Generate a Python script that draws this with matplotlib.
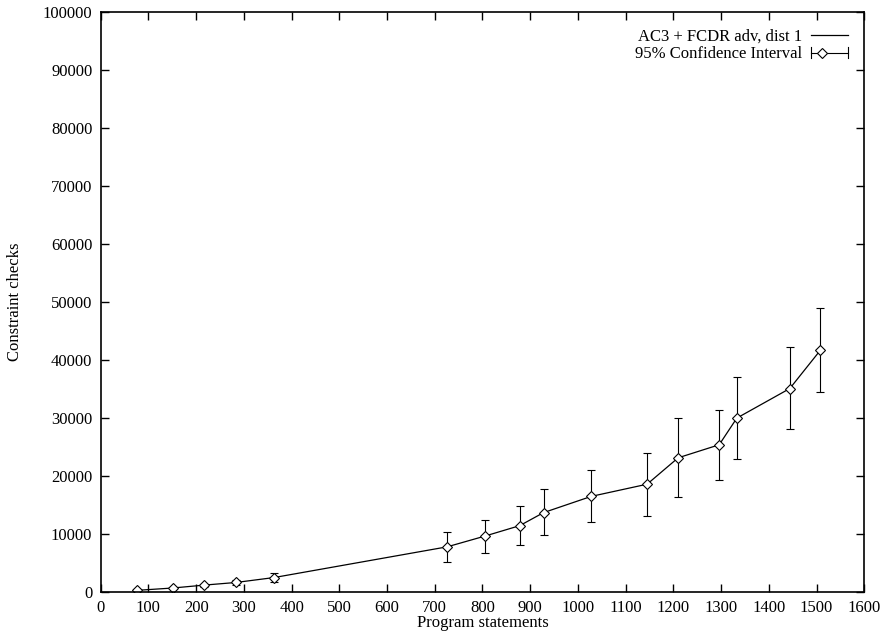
import matplotlib
matplotlib.use("Agg")
import matplotlib.pyplot as plt
from matplotlib.legend_handler import HandlerBase
from matplotlib.lines import Line2D

# values
statements = [77, 151, 217, 283, 363, 726, 805, 878, 928, 1028, 1145, 1210, 1296, 1333, 1444, 1508]
checks = [300, 700, 1200, 1650, 2500, 7800, 9650, 11450, 13700, 16500, 18600, 23150, 25400, 30000, 35100, 41700]
ci_low = [150, 500, 950, 1250, 1780, 5230, 6780, 8100, 9830, 12000, 13200, 16400, 19300, 22870, 28050, 34500]
ci_high = [450, 900, 1450, 2050, 3330, 10300, 12400, 14830, 17700, 21000, 24000, 29950, 31450, 37000, 42200, 48900]

x_ticks = list(range(0, 1700, 100))
y_ticks = list(range(0, 110000, 10000))

plt.rcParams['font.family'] = ['Liberation Serif', 'DejaVu Serif']
plt.rcParams['font.size'] = 12


class HorizontalErrHandler(HandlerBase):
    # gnuplot style key sample: |--<>--|
    def create_artists(self, legend, orig_handle, xdescent, ydescent,
                       width, height, fontsize, trans):
        y = height / 2 - ydescent
        x0, x1 = -xdescent, -xdescent + width
        bar = Line2D([x0, x1], [y, y], color='black', lw=0.8, transform=trans)
        capl = Line2D([x0, x0], [y - 4, y + 4], color='black', lw=0.8, transform=trans)
        capr = Line2D([x1, x1], [y - 4, y + 4], color='black', lw=0.8, transform=trans)
        mk = Line2D([x0 + width * 0.3], [y], marker='D', ms=5, mfc='white',
                    mec='black', mew=0.8, transform=trans)
        return [bar, capl, capr, mk]


fig = plt.figure(figsize=(8.91, 6.38), dpi=100)
ax = fig.add_axes([0.113, 0.072, 0.857, 0.909])

line, = ax.plot(statements, checks, color='black', lw=0.9)
yerr = [[c - lo for c, lo in zip(checks, ci_low)],
        [hi - c for c, hi in zip(checks, ci_high)]]
ax.errorbar(statements, checks, yerr=yerr, fmt='D', ms=5, mfc='white',
            mec='black', mew=0.8, ecolor='black', elinewidth=0.8,
            capsize=3, capthick=0.8)

err_handle = Line2D([], [])
ax.legend([line, err_handle], ["AC3 + FCDR adv, dist 1", "95% Confidence Interval"],
          handler_map={err_handle: HorizontalErrHandler()},
          loc='upper right', frameon=False, markerfirst=False,
          handlelength=2.2, handletextpad=0.5, labelspacing=0.1,
          borderaxespad=0.6, fontsize=12)

ax.set_xlim(0, 1600)
ax.set_ylim(0, 100000)
ax.set_xticks(x_ticks)
ax.set_yticks(y_ticks)
ax.tick_params(direction='in', top=True, right=True, length=6, width=1,
               labelsize=12, pad=6)
for s in ax.spines.values():
    s.set_linewidth(1.2)

ax.set_xlabel("Program statements", fontsize=12, labelpad=-1)
ax.set_ylabel("Constraint checks", fontsize=12, labelpad=14)

fig.savefig("out.png", dpi=100)
